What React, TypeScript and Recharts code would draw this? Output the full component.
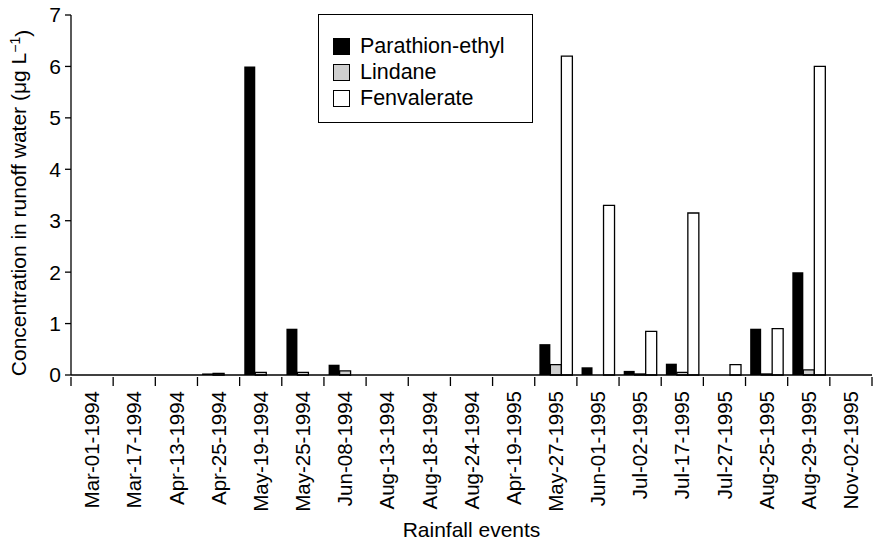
import React from "react"
import {
  BarChart, Bar, XAxis, YAxis, Legend, Label,
} from "recharts"

const events = [
  "Mar-01-1994", "Mar-17-1994", "Apr-13-1994", "Apr-25-1994", "May-19-1994",
  "May-25-1994", "Jun-08-1994", "Aug-13-1994", "Aug-18-1994", "Aug-24-1994",
  "Apr-19-1995", "May-27-1995", "Jun-01-1995", "Jul-02-1995", "Jul-17-1995",
  "Jul-27-1995", "Aug-25-1995", "Aug-29-1995", "Nov-02-1995",
]
const parathion = [0, 0, 0, 0.03, 6.0, 0.9, 0.2, 0, 0, 0, 0, 0.6, 0.15, 0.08, 0.22, 0, 0.9, 2.0, 0]
const lindane = [0, 0, 0, 0.03, 0.05, 0.05, 0.08, 0, 0, 0, 0, 0.2, 0, 0.02, 0.05, 0, 0.02, 0.1, 0]
const fenvalerate = [0, 0, 0, 0, 0, 0, 0, 0, 0, 0, 0, 6.2, 3.3, 0.85, 3.15, 0.2, 0.9, 6.0, 0]
const yTicks = [0, 1, 2, 3, 4, 5, 6, 7]

const series = [
  { key: "parathion", name: "Parathion-ethyl", fill: "#000000" },
  { key: "lindane", name: "Lindane", fill: "#cfcfcf" },
  { key: "fenvalerate", name: "Fenvalerate", fill: "#ffffff" },
]

const data = events.map((name, i) => ({
  name,
  parathion: parathion[i],
  lindane: lindane[i],
  fenvalerate: fenvalerate[i],
}))

const FONT = "'Liberation Sans', Arial, Helvetica, sans-serif"

function EventTick(props: any) {
  const { x, y, payload, index } = props
  const half = payload?.offset ?? 21
  return (
    <g>
      <line x1={x - half} y1={y} x2={x - half} y2={y + 9} stroke="#000" strokeWidth={1.3} />
      {index === events.length - 1 && (
        <line x1={x + half} y1={y} x2={x + half} y2={y + 9} stroke="#000" strokeWidth={1.3} />
      )}
      <text
        transform={`translate(${x},${y + 14}) rotate(-90)`}
        textAnchor="end"
        dy="0.35em"
        fontSize={20.5}
        fontFamily={FONT}
        fill="#000"
      >
        {payload.value}
      </text>
    </g>
  )
}

function LegendBox() {
  return (
    <div style={{
      border: "1.5px solid #000", width: 215, height: 109, boxSizing: "border-box",
      paddingTop: 18, paddingLeft: 14, fontFamily: FONT, fontSize: 21.5, background: "#fff",
    }}>
      {series.map(s => (
        <div key={s.key} style={{ display: "flex", alignItems: "center", height: 26 }}>
          <span style={{
            display: "inline-block", width: 17, height: 17, background: s.fill,
            border: "1px solid #000", boxSizing: "border-box", marginRight: 10,
          }} />
          <span>{s.name}</span>
        </div>
      ))}
    </div>
  )
}

export default function App() {
  return (
    <div style={{ position: "absolute", left: 0, top: 0, background: "#fff" }}>
      <BarChart
        width={874}
        height={548}
        data={data}
        margin={{ top: 15, right: 2, bottom: 23, left: 0 }}
        barCategoryGap="11%"
        barGap={0}
      >
        <XAxis
          dataKey="name"
          interval={0}
          height={150}
          tickLine={false}
          tickSize={0}
          tick={<EventTick />}
          axisLine={{ stroke: "#000", strokeWidth: 1.3 }}
        >
          <Label
            value="Rainfall events"
            position="insideBottom"
            offset={-12}
            style={{ fontSize: 21, fontFamily: FONT, fill: "#000" }}
          />
        </XAxis>
        <YAxis
          width={71}
          domain={[0, 7]}
          ticks={yTicks}
          tickSize={6}
          tickMargin={4}
          tick={{ fontSize: 21, fontFamily: FONT, fill: "#000" }}
          tickLine={{ stroke: "#000", strokeWidth: 1.3 }}
          axisLine={{ stroke: "#000", strokeWidth: 1.3 }}
          label={(p: any) => {
            const vb = p.viewBox
            const cx = 19
            const cy = vb.y + vb.height / 2 + 8
            return (
              <text
                transform={`translate(${cx},${cy}) rotate(-90)`}
                textAnchor="middle"
                dy="0.35em"
                fontSize={21}
                fontFamily={FONT}
                fill="#000"
              >
                Concentration in runoff water (μg L
                <tspan dy="-0.45em" fontSize={14}>−1</tspan>
                <tspan dy="0.45em">)</tspan>
              </text>
            )
          }}
        />
        <Legend
          layout="horizontal"
          verticalAlign="middle"
          align="center"
          content={() => <LegendBox />}
          wrapperStyle={{ left: 318, top: 14, width: 216, height: 110 }}
        />
        {series.map(s => (
          <Bar
            key={s.key}
            dataKey={s.key}
            name={s.name}
            fill={s.fill}
            stroke={s.key === "parathion" ? "none" : "#000"}
            strokeWidth={1.3}
            isAnimationActive={false}
          />
        ))}
      </BarChart>
    </div>
  )
}
